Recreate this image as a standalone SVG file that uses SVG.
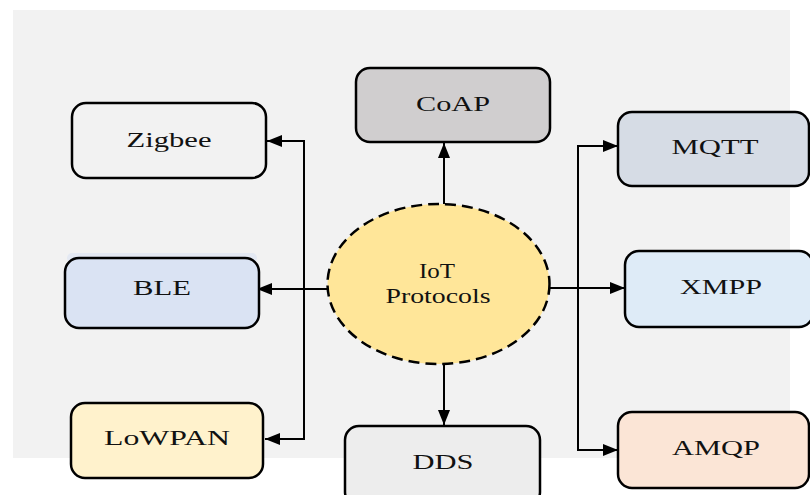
<svg xmlns="http://www.w3.org/2000/svg" width="810" height="495" viewBox="0 0 810 495">
  <style>
    .box { stroke: #000; stroke-width: 2.5; }
    .label { font-family: "Liberation Serif", "Times New Roman", serif; font-size: 20px; fill: #111; text-anchor: middle; }
    .wire { fill: none; stroke: #000; stroke-width: 2; }
  </style>
  <defs>
    <marker id="arrow" markerUnits="userSpaceOnUse" markerWidth="16" markerHeight="12" refX="15" refY="6" orient="auto">
      <path d="M0,0 L15,6 L0,12 Z" fill="#000"/>
    </marker>
  </defs>

  <!-- panel -->
  <rect x="0" y="0" width="810" height="495" fill="#ffffff"/>
  <rect x="13" y="10" width="777" height="448" fill="#f2f2f2"/>

  <!-- connectors -->
  <g id="connectors">
    <path class="wire" d="M444,204 L444,143" marker-end="url(#arrow)"/>
    <path class="wire" d="M444,364 L444,425" marker-end="url(#arrow)"/>
    <path class="wire" d="M328,289 L257,289" marker-end="url(#arrow)"/>
    <path class="wire" d="M304,289 L304,141 L267,141" marker-end="url(#arrow)"/>
    <path class="wire" d="M304,289 L304,439 L265,439" marker-end="url(#arrow)"/>
    <path class="wire" d="M549,288 L625,288" marker-end="url(#arrow)"/>
    <path class="wire" d="M578,288 L578,146 L618,146" marker-end="url(#arrow)"/>
    <path class="wire" d="M578,288 L578,450 L618,450" marker-end="url(#arrow)"/>
  </g>

  <!-- centre -->
  <g id="iot">
    <ellipse cx="438.5" cy="284" rx="111" ry="80" fill="#ffe699" stroke="#000" stroke-width="2.5" stroke-dasharray="11,6"/>
    <text class="label" x="437" y="278" textLength="36" lengthAdjust="spacingAndGlyphs">IoT</text>
    <text class="label" x="438" y="303" textLength="105" lengthAdjust="spacingAndGlyphs">Protocols</text>
  </g>

  <g id="coap">
    <rect class="box" x="356" y="68" width="194" height="74" rx="14" fill="#d0cecf"/>
    <text class="label" x="453" y="111" textLength="74" lengthAdjust="spacingAndGlyphs">CoAP</text>
  </g>

  <g id="dds">
    <rect class="box" x="345" y="426" width="195" height="80" rx="14" fill="#ededed"/>
    <text class="label" x="443" y="469" textLength="61" lengthAdjust="spacingAndGlyphs">DDS</text>
  </g>

  <g id="zigbee">
    <rect class="box" x="72" y="103" width="194" height="75" rx="14" fill="#f2f2f2"/>
    <text class="label" x="169" y="147" textLength="85" lengthAdjust="spacingAndGlyphs">Zigbee</text>
  </g>

  <g id="ble">
    <rect x="67" y="253" width="190" height="10" rx="5" fill="#dae3f3" opacity="0.6"/>
    <rect class="box" x="65" y="258" width="194" height="70" rx="14" fill="#dae3f3"/>
    <text class="label" x="162" y="295" textLength="58" lengthAdjust="spacingAndGlyphs">BLE</text>
  </g>

  <g id="lowpan">
    <rect class="box" x="71" y="403" width="192" height="75" rx="14" fill="#fff2cc"/>
    <text class="label" x="167" y="445" textLength="126" lengthAdjust="spacingAndGlyphs">LoWPAN</text>
  </g>

  <g id="mqtt">
    <rect class="box" x="618" y="112" width="191" height="74" rx="14" fill="#d6dce5"/>
    <text class="label" x="715" y="154" textLength="87" lengthAdjust="spacingAndGlyphs">MQTT</text>
  </g>

  <g id="xmpp">
    <rect class="box" x="625" y="251" width="188" height="76" rx="14" fill="#deebf7"/>
    <text class="label" x="721" y="294" textLength="82" lengthAdjust="spacingAndGlyphs">XMPP</text>
  </g>

  <g id="amqp">
    <rect class="box" x="618" y="412" width="191" height="76" rx="14" fill="#fbe5d6"/>
    <text class="label" x="716" y="455" textLength="88" lengthAdjust="spacingAndGlyphs">AMQP</text>
  </g>
</svg>
